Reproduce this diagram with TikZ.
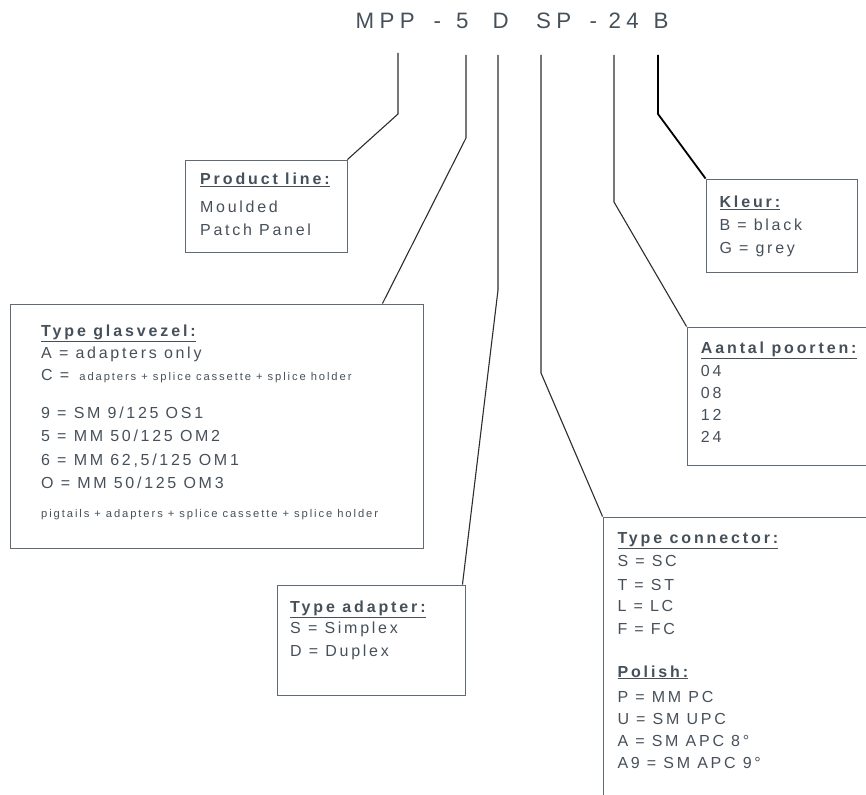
\documentclass[tikz,border=0pt]{standalone}
\usepackage{fontspec}
\setmainfont{Liberation Sans}
\newfontfamily\codefont[LetterSpace=24]{Liberation Sans}
\newfontfamily\bodyfont[LetterSpace=17]{Liberation Sans}
\newfontfamily\headfont[LetterSpace=18]{Liberation Sans}
\definecolor{inkgray}{RGB}{70,80,90}
\definecolor{framegray}{RGB}{96,106,116}
\definecolor{leadgray}{RGB}{45,45,45}
\tikzset{
  box/.style={draw=framegray, line width=0.9pt, inner sep=0, rectangle},
  lead/.style={draw=leadgray, line width=1.1pt},
  txt/.style={anchor=base west, inner sep=0, text=inkgray, font=\bodyfont\fontsize{16}{19}\selectfont},
  small/.style={txt, font=\bodyfont\fontsize{11.2}{14}\selectfont},
  head/.style={txt, font=\headfont\bfseries\fontsize{16}{19}\selectfont},
  code/.style={anchor=base west, inner sep=0, text=inkgray, font=\codefont\fontsize{22.3}{26}\selectfont},
}
\begin{document}
\begin{tikzpicture}[x=1pt, y=-1pt]
\useasboundingbox (0,0) rectangle (866,794);
\clip (0,0) rectangle (866,794);

% order code
\foreach \t/\x [count=\i] in {MPP/355.5, -/433.3, 5/456, D/492.3, SP/536, -/589.3, 24/608.3, B/653.3}
  \node[code] (c\i) at (\x,29) {\t};

% boxes
\node[box, minimum width=162, minimum height=92] (prod) at (266,206) {};
\node[box, minimum width=413, minimum height=244] (glas) at (216.5,426) {};
\node[box, minimum width=188, minimum height=110] (adap) at (371,640) {};
\node[box, minimum width=297, minimum height=313] (conn) at (751.5,673.5) {};
\node[box, minimum width=193, minimum height=138] (aant) at (783.5,396) {};
\node[box, minimum width=151, minimum height=93] (kleur) at (781.5,225.5) {};

% leaders
\coordinate (t1) at (398,53);  \coordinate (b1) at (398,114);
\coordinate (t2) at (466,55);  \coordinate (b2) at (466,138);
\coordinate (t3) at (498,55);  \coordinate (b3) at (498,290);
\coordinate (t4) at (541,55);  \coordinate (b4) at (541,373);
\coordinate (t5) at (614,55);  \coordinate (b5) at (614,202);
\coordinate (t6) at (658,55);  \coordinate (b6) at (658,114);
\draw[lead] (t1) -- (b1) -- (prod.north east);
\draw[lead] (t2) -- (b2) -- ([xshift=-41]glas.north east);
\draw[lead] (t3) -- (b3) -- ([xshift=-3]adap.north east);
\draw[lead] (t4) -- (b4) -- (conn.north west);
\draw[lead] (t5) -- (b5) -- (aant.north west);
\draw[lead, draw=black, line width=1.8pt] (t6) -- (b6) -- (kleur.north west);

% product line
\node[head] (prodh) at (200,185) {\underline{Product line:}};
\node[txt] (prod1) at (200,212) {Moulded};
\node[txt] (prod2) at (200,235) {Patch Panel};

% type glasvezel
\node[head] (glash) at (41,336.7) {\underline{Type glasvezel:}};
\node[txt] (glas1) at (41,358.3) {A = adapters only};
\node[txt] (glas2) at (41,380) {C =\hspace{3pt} {\fontsize{11.2}{14}\selectfont adapters + splice cassette + splice holder}};
\node[txt] (glas3) at (41,418.3) {9 = SM 9/125 OS1};
\node[txt] (glas4) at (41,441.7) {5 = MM 50/125 OM2};
\node[txt] (glas5) at (41,465) {6 = MM 62,5/125 OM1};
\node[txt] (glas6) at (41,488.3) {O = MM 50/125 OM3};
\node[small] (glas7) at (41,517.7) {pigtails + adapters + splice cassette + splice holder};

% type adapter
\node[head] (adaph) at (290,612.3) {\underline{Type adapter:}};
\node[txt] (adap1) at (290,633.3) {S = Simplex};
\node[txt] (adap2) at (290,656.7) {D = Duplex};

% type connector + polish
\node[head] (connh) at (617.3,543.3) {\underline{Type connector:}};
\node[txt] (conn1) at (617.3,566) {S = SC};
\node[txt] (conn2) at (617.3,590) {T = ST};
\node[txt] (conn3) at (617.3,611) {L = LC};
\node[txt] (conn4) at (617.3,634.5) {F = FC};
\node[head] (polh) at (617.3,677) {\underline{Polish:}};
\node[txt] (pol1) at (617.3,702.5) {P = MM PC};
\node[txt] (pol2) at (617.3,724.5) {U = SM UPC};
\node[txt] (pol3) at (617.3,746) {A = SM APC 8°};
\node[txt] (pol4) at (617.3,768) {A9 = SM APC 9°};

% aantal poorten
\node[head] (aanth) at (700.7,353.3) {\underline{Aantal poorten:}};
\node[txt] (aant1) at (700.7,376.5) {04};
\node[txt] (aant2) at (700.7,398.5) {08};
\node[txt] (aant3) at (700.7,420) {12};
\node[txt] (aant4) at (700.7,442) {24};

% kleur
\node[head] (kleurh) at (719.3,207.7) {\underline{Kleur:}};
\node[txt] (kleur1) at (719.3,230) {B = black};
\node[txt] (kleur2) at (719.3,253.3) {G = grey};
\end{tikzpicture}
\end{document}
